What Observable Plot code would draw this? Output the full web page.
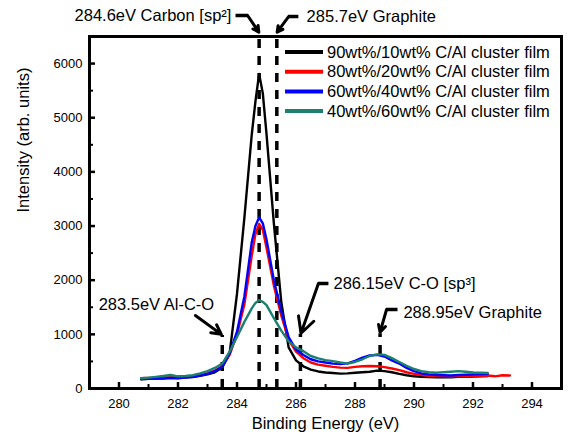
<!DOCTYPE html>
<html><head><meta charset="utf-8">
<script src="https://cdn.jsdelivr.net/npm/d3@7"></script>
<script src="https://cdn.jsdelivr.net/npm/@observablehq/plot@0.6"></script>
<style>body{margin:0;background:#fff;} svg{display:block}</style>
</head><body><div id="chart"></div>
<script>
// ---- data ----
const energy = [280.75,281,281.25,281.5,281.75,282,282.25,282.5,282.75,283,283.25,283.5,283.75,284,284.25,284.5,284.625,284.75,284.875,285,285.25,285.5,285.75,286,286.25,286.5,286.75,287,287.25,287.5,287.75,288,288.25,288.5,288.75,289,289.25,289.5,289.75,290,290.25,290.5,290.75,291,291.25,291.5,291.75,292,292.25,292.5,292.75,293,293.25];
const film90 = [170,180,185,190,200,195,205,215,235,260,300,390,650,1750,3150,4690,5300,5810,5450,4700,3050,1600,760,520,410,350,315,295,285,275,280,290,300,310,330,320,300,270,245,225,215,210,205,212,208,218,214,222,226,232,null,null,null];
const film80 = [190,195,190,200,210,205,210,225,245,280,330,410,620,1000,1550,2450,2850,3040,2930,2600,1900,1350,900,680,560,480,440,420,400,385,380,400,410,415,410,395,370,340,300,270,250,235,230,225,220,230,225,235,230,240,225,245,240];
const film60 = [175,180,190,185,195,190,200,210,240,270,320,400,650,1050,1700,2700,3000,3160,3050,2750,2000,1430,950,720,620,540,500,480,460,450,465,510,570,610,620,590,520,460,380,320,280,260,250,245,240,250,255,260,265,270,null,null,null];
const film40 = [190,200,215,230,250,225,230,245,280,320,380,460,680,950,1230,1480,1580,1630,1600,1540,1300,1070,870,760,690,600,555,525,505,480,460,490,540,600,630,620,560,490,420,360,320,300,290,300,310,320,310,295,290,285,null,null,null];

const seriesNames = ["90wt%/10wt% C/Al cluster film","80wt%/20wt% C/Al cluster film","60wt%/40wt% C/Al cluster film","40wt%/60wt% C/Al cluster film"];
const seriesColors = ["#000000","#ff0000","#0000ff","#1c8070"];
const seriesValues = [film90, film80, film60, film40];

const xTicks = [280,282,284,286,288,290,292,294];
const xMinor = [281,283,285,287,289,291,293];
const yTicks = [0,1000,2000,3000,4000,5000,6000];
const yMinor = [500,1500,2500,3500,4500,5500];

// dashed reference lines: position and upper end
const dashX   = [283.5, 284.75, 285.35, 286.15, 288.85];
const dashTop = [980, 6560, 6560, 1000, 1010];

// annotation labels
const noteText = ["284.6eV Carbon [sp²]","285.7eV Graphite","283.5eV Al-C-O","286.15eV C-O [sp³]","288.95eV Graphite"];
const noteX    = [283.81, 286.36, 279.31, 287.27, 289.64];
const noteY    = [6888, 6869, 1551, 1939, 1403];
const noteAnchor = ["end","start","start","start","start"];
// arrows (from -> tip)
const arrowX1 = [284.36, 285.75, 282.59, 286.76, 289.07];
const arrowY1 = [6888, 6869, 1348, 1939, 1459];
const arrowX2 = [284.74, 285.36, 283.47, 286.17, 288.85];
const arrowY2 = [6580, 6580, 1000, 1020, 1040];
// horizontal stubs leading into arrows
const stubX1 = [283.95, 286.08, 287.10, 289.44];
const stubX2 = [284.38, 285.73, 286.74, 289.05];
const stubY  = [6888, 6869, 1939, 1459];

// ---- build tables ----
const rows = seriesNames.map((name, s) =>
  energy.map((e, i) => ({energy: e, intensity: seriesValues[s][i], series: name}))
        .filter(d => d.intensity != null));
const dashes = dashX.map((x, i) => ({x, top: dashTop[i]}));
const notes = noteText.map((t, i) => ({t, x: noteX[i], y: noteY[i], a: noteAnchor[i]}));
const arrows = arrowX1.map((x, i) => ({x1: x, y1: arrowY1[i], x2: arrowX2[i], y2: arrowY2[i]}));
const stubs = stubX1.map((x, i) => ({x1: x, x2: stubX2[i], y: stubY[i]}));

const W = 574, H = 445, mt = 36, mr = 13, mb = 57, ml = 89;
const innerW = W - ml - mr, innerH = H - mt - mb;
const font = "Arial, 'Liberation Sans', sans-serif";

const plot = Plot.plot({
  width: W, height: H,
  marginTop: mt, marginRight: mr, marginBottom: mb, marginLeft: ml,
  style: {fontFamily: font, fontSize: "13px", color: "#000", background: "#fff", overflow: "visible"},
  x: {domain: [279, 295]},
  y: {domain: [0, 6500]},
  marks: [
    Plot.ruleX(dashes, {x: "x", y1: 0, y2: "top", stroke: "#000", strokeWidth: 3.5, strokeDasharray: "9,8", clip: false}),
    ...rows.map((r, s) => Plot.line(r, {x: "energy", y: "intensity", stroke: seriesColors[s], strokeWidth: 2.4, strokeLinejoin: "round"})),
    Plot.axisX({ticks: xTicks, tickSize: 0, tickPadding: 10, fontSize: 13, label: null}),
    Plot.axisY({ticks: yTicks, tickSize: 0, tickPadding: 7, fontSize: 13, label: null, tickFormat: d3.format("d")}),
    Plot.ruleX(xTicks, {insetTop: innerH - 6, strokeWidth: 2.5}),
    Plot.ruleX(xMinor, {insetTop: innerH - 4, strokeWidth: 2}),
    Plot.ruleY(yTicks, {insetRight: innerW - 6, strokeWidth: 2.5}),
    Plot.ruleY(yMinor, {insetRight: innerW - 4, strokeWidth: 2}),
    Plot.frame({stroke: "#000", strokeWidth: 3}),
    Plot.link(stubs, {x1: "x1", x2: "x2", y1: "y", y2: "y", stroke: "#000", strokeWidth: 3.5, clip: false}),
    Plot.arrow(arrows, {x1: "x1", y1: "y1", x2: "x2", y2: "y2", stroke: "#000", strokeWidth: 3, headLength: 9, headAngle: 55, clip: false}),
    Plot.text(notes.filter(d => d.a === "end"), {x: "x", y: "y", text: "t", textAnchor: "end", fontSize: 16.5, fill: "#000", clip: false}),
    Plot.text(notes.filter(d => d.a === "start"), {x: "x", y: "y", text: "t", textAnchor: "start", fontSize: 16.5, fill: "#000", clip: false}),
    Plot.text(["Binding Energy (eV)"], {frameAnchor: "bottom", dy: 40, fontSize: 16.5, fill: "#000"}),
    Plot.text(["Intensity (arb. units)"], {frameAnchor: "left", dx: -66, rotate: -90, fontSize: 16.5, fill: "#000"})
  ]
});
document.getElementById("chart").appendChild(plot);

// legend inside the frame (top right)
const svg = d3.select(plot);
const lg = svg.append("g").attr("font-family", font).attr("font-size", 16.5).attr("text-anchor", "start");
seriesNames.forEach((name, i) => {
  const y = 52 + i * 19.7;
  lg.append("line").attr("x1", 285).attr("x2", 323).attr("y1", y).attr("y2", y)
    .attr("stroke", seriesColors[i]).attr("stroke-width", 4);
  lg.append("text").attr("x", 327).attr("y", y).attr("dy", "0.35em").attr("fill", "#000")
    .attr("text-anchor", "start").text(name);
});
</script>
</body></html>
